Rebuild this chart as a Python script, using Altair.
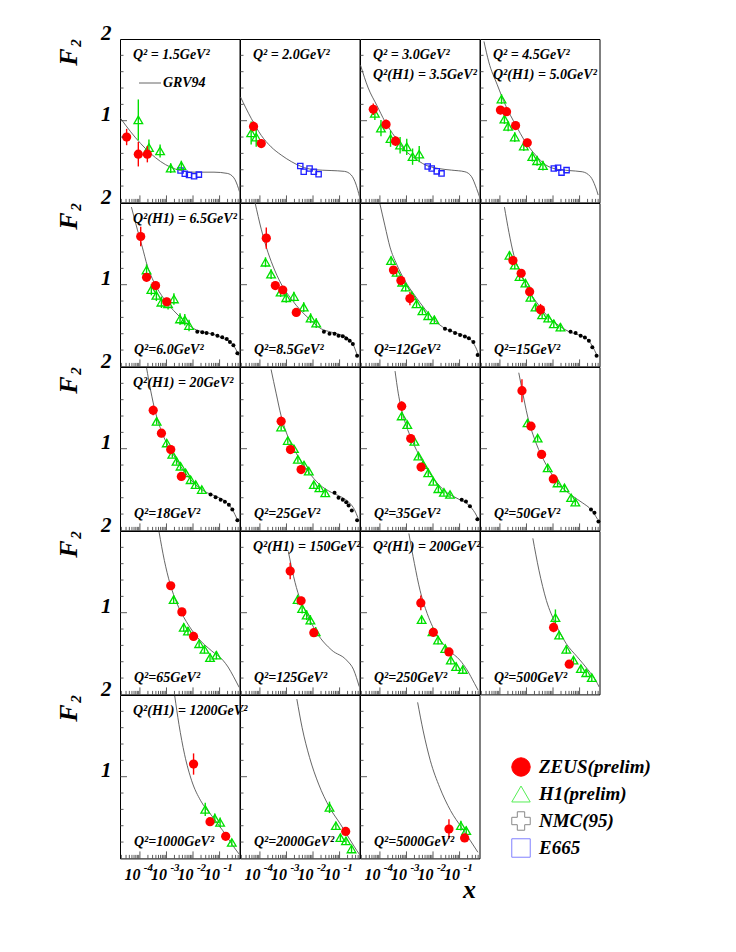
import altair as alt
import pandas as pd

FONT = "Liberation Serif"
W, H = 119.5, 163.4

# ---------------- panel texts ----------------
TOP_TEXT = [
    ["Q² = 1.5GeV²"], ["Q² = 2.0GeV²"], ["Q² = 3.0GeV²", "Q²(H1) = 3.5GeV²"], ["Q² = 4.5GeV²", "Q²(H1) = 5.0GeV²"],
    ["Q²(H1) = 6.5GeV²"], [], [], [],
    ["Q²(H1) = 20GeV²"], [], [], [],
    [], ["Q²(H1) = 150GeV²"], ["Q²(H1) = 200GeV²"], [],
    ["Q²(H1) = 1200GeV²"], [], [],
]
BOTTOM_TEXT = ["", "", "", "", "Q²=6.0GeV²", "Q²=8.5GeV²", "Q²=12GeV²", "Q²=15GeV²",
               "Q²=18GeV²", "Q²=25GeV²", "Q²=35GeV²", "Q²=50GeV²",
               "Q²=65GeV²", "Q²=125GeV²", "Q²=250GeV²", "Q²=500GeV²",
               "Q²=1000GeV²", "Q²=2000GeV²", "Q²=5000GeV²"]

# ---------------- data (log10 x, F2) per panel ----------------
ZEUS_LX = [
    [-4.50, -4.06, -3.72], [-4.24, -3.95], [-4.25, -3.77, -3.41], [-3.98, -3.75, -3.41, -2.97],
    [-3.97, -3.75, -3.41, -2.99], [-3.76, -3.42, -3.14, -2.63], [-3.49, -3.21, -2.87], [-3.51, -3.20, -2.88, -2.47],
    [-3.50, -3.19, -2.84, -2.44], [-3.20, -2.85, -2.45], [-3.18, -2.84, -2.45], [-3.17, -2.83, -2.43, -1.99],
    [-2.84, -2.42, -1.98], [-2.86, -2.45, -1.97], [-2.46, -1.99, -1.40], [-1.98, -1.39],
    [-1.98, -1.36, -0.77], [-0.77], [-1.40, -0.81],
]
ZEUS_F2 = [
    [0.80, 0.59, 0.59], [0.93, 0.72], [1.14, 0.955, 0.75], [1.13, 1.11, 0.94, 0.73],
    [1.59, 1.09, 0.99, 0.79], [1.57, 0.99, 0.935, 0.66], [1.18, 1.05, 0.83], [1.295, 1.14, 0.915, 0.695],
    [1.47, 1.19, 0.99, 0.66], [1.335, 0.99, 0.745], [1.52, 1.125, 0.775], [1.71, 1.275, 0.93, 0.63],
    [1.33, 1.01, 0.71], [1.51, 1.145, 0.755], [1.12, 0.76, 0.52], [0.82, 0.37],
    [1.155, 0.45, 0.27], [0.33], [0.36, 0.25],
]
ZEUS_ERR = [
    [0.10, 0.15, 0.10], [0.06, 0.05], [0.07, 0.06, 0.06], [0.05, 0.05, 0.05, 0.05],
    [0.12, 0.05, 0.05, 0.05], [0.13, 0.05, 0.05, 0.05], [0.05, 0.05, 0.08], [0.05, 0.05, 0.05, 0.07],
    [0.06, 0.05, 0.05, 0.05], [0.06, 0.05, 0.05], [0.06, 0.05, 0.05], [0.14, 0.05, 0.05, 0.05],
    [0.04, 0.04, 0.04], [0.10, 0.05, 0.05], [0.09, 0.05, 0.04], [0.06, 0.04],
    [0.13, 0.04, 0.04], [0.04], [0.12, 0.05],
]

H1_LX = [
    [-4.06, -3.66, -3.24, -2.84, -2.44], [-4.33, -4.14], [-4.19, -3.96, -3.60, -3.24, -2.99, -2.77, -2.52],
    [-3.94, -3.83, -3.69, -3.44, -3.10, -2.78, -2.60, -2.38],
    [-3.75, -3.57, -3.38, -3.19, -2.94, -2.72, -2.49, -2.31, -2.15],
    [-3.79, -3.58, -3.22, -3.01, -2.72, -2.35, -2.09, -1.88],
    [-3.58, -3.37, -3.16, -3.03, -2.80, -2.62, -2.40, -2.18, -1.95],
    [-3.64, -3.44, -3.26, -3.04, -2.85, -2.66, -2.41, -2.18, -1.97, -1.72],
    [-3.37, -2.99, -2.78, -2.62, -2.47, -2.28, -2.09, -1.90, -1.67],
    [-3.20, -2.95, -2.72, -2.57, -2.34, -2.16, -1.97, -1.76, -1.54],
    [-3.18, -2.97, -2.70, -2.55, -2.37, -2.18, -1.99, -1.80, -1.59, -1.36],
    [-2.96, -2.58, -2.20, -1.83, -1.57, -1.32, -1.16],
    [-2.73, -2.35, -2.19, -1.77, -1.57, -1.36, -1.12],
    [-2.58, -2.41, -2.24, -2.10, -1.90],
    [-2.43, -2.02, -1.81, -1.54, -1.33, -1.13, -0.88],
    [-1.91, -1.77, -1.50, -1.23, -0.95, -0.75, -0.54],
    [-1.54, -1.18, -0.98, -0.54],
    [-1.38, -1.14, -0.97, -0.76, -0.55],
    [-0.95, -0.75],
]
H1_F2 = [
    [1.01, 0.67, 0.63, 0.42, 0.45], [0.85, 0.80], [1.09, 0.91, 0.78, 0.70, 0.68, 0.56, 0.59],
    [1.265, 1.02, 0.93, 0.80, 0.69, 0.56, 0.51, 0.45],
    [1.18, 0.94, 0.87, 0.785, 0.765, 0.825, 0.58, 0.57, 0.50],
    [1.275, 1.13, 0.91, 0.84, 0.855, 0.725, 0.59, 0.53],
    [1.295, 1.15, 1.03, 0.97, 0.865, 0.765, 0.68, 0.62, 0.57],
    [1.36, 1.24, 1.10, 1.02, 0.845, 0.725, 0.63, 0.59, 0.52, 0.48],
    [1.335, 1.07, 0.93, 0.845, 0.785, 0.705, 0.62, 0.56, 0.50],
    [1.265, 1.10, 1.00, 0.87, 0.80, 0.725, 0.56, 0.52, 0.46],
    [1.40, 1.295, 1.09, 0.91, 0.805, 0.705, 0.60, 0.51, 0.465, 0.44],
    [1.315, 1.13, 0.765, 0.58, 0.52, 0.40, 0.345],
    [1.16, 0.82, 0.775, 0.62, 0.55, 0.45, 0.48],
    [1.16, 1.05, 0.97, 0.91, 0.765],
    [0.915, 0.765, 0.665, 0.56, 0.42, 0.34, 0.305],
    [0.94, 0.725, 0.55, 0.42, 0.315, 0.265, 0.205],
    [0.60, 0.49, 0.44, 0.195],
    [0.625, 0.40, 0.255, 0.215, 0.115],
    [0.40, 0.34],
]
H1_ERR = [
    [0.25, 0.10, 0.08, 0.06, 0.06], [0.14, 0.12], [0.08, 0.10, 0.10, 0.10, 0.10, 0.10, 0.10],
    [0.06, 0.06, 0.06, 0.06, 0.06, 0.06, 0.06, 0.06],
    [0.07, 0.07, 0.07, 0.07, 0.07, 0.07, 0.07, 0.07, 0.07],
    [0.06, 0.06, 0.06, 0.06, 0.06, 0.06, 0.06, 0.06],
    [0.05, 0.05, 0.05, 0.05, 0.05, 0.05, 0.05, 0.05, 0.05],
    [0.05, 0.05, 0.05, 0.05, 0.05, 0.05, 0.05, 0.05, 0.05, 0.05],
    [0.04, 0.04, 0.04, 0.04, 0.04, 0.04, 0.04, 0.04, 0.04],
    [0.04, 0.04, 0.04, 0.04, 0.04, 0.04, 0.04, 0.04, 0.04],
    [0.04, 0.04, 0.04, 0.04, 0.04, 0.04, 0.04, 0.04, 0.04, 0.04],
    [0.04, 0.04, 0.04, 0.04, 0.04, 0.04, 0.04],
    [0.05, 0.05, 0.05, 0.05, 0.05, 0.05, 0.05],
    [0.06, 0.06, 0.06, 0.06, 0.06],
    [0.05, 0.05, 0.05, 0.05, 0.05, 0.05, 0.05],
    [0.10, 0.05, 0.05, 0.04, 0.04, 0.04, 0.04],
    [0.08, 0.06, 0.06, 0.04],
    [0.07, 0.05, 0.04, 0.04, 0.04],
    [0.06, 0.05],
]

E665_LX = [
    [-2.47, -2.31, -2.15, -1.96, -1.78], [-2.48, -2.35, -2.13, -1.97, -1.79],
    [-2.20, -2.05, -1.86, -1.68], [-1.97, -1.81, -1.68, -1.49],
] + [[] for _ in range(15)]
E665_F2 = [
    [0.39, 0.35, 0.335, 0.32, 0.34], [0.445, 0.375, 0.415, 0.375, 0.345],
    [0.44, 0.415, 0.38, 0.355], [0.415, 0.425, 0.365, 0.395],
] + [[] for _ in range(15)]

NMC_LX = [
    [], [], [], [],
    [-1.84, -1.65, -1.49, -1.27, -1.08, -0.90, -0.73, -0.61, -0.48, -0.33],
    [-1.59, -1.38, -1.19, -1.04, -0.88, -0.75, -0.62, -0.50, -0.34],
    [-1.55, -1.36, -1.17, -0.98, -0.80, -0.65, -0.48, -0.32],
    [-1.34, -1.15, -0.96, -0.80, -0.65, -0.52, -0.36],
    [-1.34, -1.15, -0.96, -0.80, -0.65, -0.52, -0.33],
    [-1.19, -1.04, -0.88, -0.75, -0.66, -0.54, -0.34],
    [-0.92, -0.76, -0.61, -0.33],
    [-0.57, -0.44, -0.29],
    [], [], [], [], [], [], [],
]
NMC_F2 = [
    [], [], [], [],
    [0.425, 0.417, 0.41, 0.397, 0.376, 0.356, 0.336, 0.30, 0.26, 0.16],
    [0.425, 0.40, 0.40, 0.376, 0.368, 0.343, 0.315, 0.275, 0.13],
    [0.46, 0.44, 0.41, 0.385, 0.365, 0.345, 0.30, 0.14],
    [0.425, 0.41, 0.375, 0.355, 0.315, 0.235, 0.13],
    [0.44, 0.405, 0.375, 0.35, 0.315, 0.255, 0.125],
    [0.46, 0.40, 0.375, 0.345, 0.305, 0.245, 0.125],
    [0.375, 0.355, 0.295, 0.135],
    [0.255, 0.215, 0.11],
    [], [], [], [], [], [], [],
]

GRV_LX = [
    [-4.73, -4.35, -3.97, -3.60, -3.22, -2.84, -2.47, -1.96, -1.21, -0.71, -0.46, -0.33, -0.25],
    [-4.73, -4.33, -3.95, -3.58, -3.20, -2.82, -2.45, -1.95, -1.32, -0.82, -0.56, -0.37, -0.25],
    [-4.73, -4.44, -4.12, -3.81, -3.43, -3.06, -2.68, -2.30, -1.80, -1.30, -0.80, -0.55, -0.36, -0.23],
    [-4.60, -4.42, -4.10, -3.79, -3.41, -3.04, -2.66, -2.28, -1.91, -1.41, -0.90, -0.59, -0.40, -0.30],
    [-4.32, -4.10, -3.91, -3.72, -3.47, -3.09, -2.72, -2.34, -1.96, -1.59, -1.21, -0.83, -0.58, -0.39, -0.27],
    [-4.18, -3.95, -3.76, -3.51, -3.20, -2.82, -2.45, -2.07, -1.69, -1.32, -0.94, -0.69, -0.50, -0.34],
    [-4.00, -3.81, -3.62, -3.37, -3.06, -2.68, -2.30, -1.93, -1.55, -1.17, -0.80, -0.55, -0.36, -0.23],
    [-3.83, -3.66, -3.47, -3.22, -2.91, -2.53, -2.16, -1.78, -1.40, -1.03, -0.72, -0.53, -0.34],
    [-3.75, -3.60, -3.41, -3.16, -2.78, -2.34, -1.84, -1.46, -1.08, -0.71, -0.52, -0.33],
    [-3.58, -3.39, -3.20, -2.95, -2.57, -2.19, -1.75, -1.31, -0.94, -0.62, -0.44, -0.31],
    [-3.43, -3.31, -3.12, -2.80, -2.43, -2.05, -1.55, -1.05, -0.67, -0.42, -0.29],
    [-3.29, -3.14, -2.96, -2.64, -2.26, -1.76, -1.26, -0.88, -0.57, -0.32],
    [-3.28, -3.08, -2.87, -2.60, -2.25, -1.84, -1.29, -0.88, -0.68, -0.47, -0.26],
    [-2.93, -2.73, -2.52, -2.24, -1.84, -1.29, -0.74, -0.47, -0.26],
    [-2.91, -2.70, -2.49, -2.22, -1.81, -1.40, -0.99, -0.72, -0.44, -0.30],
    [-2.76, -2.53, -2.25, -1.91, -1.50, -1.09, -0.68, -0.40, -0.26],
    [-2.69, -2.53, -2.32, -2.05, -1.71, -1.29, -0.88, -0.54, -0.27],
    [-2.61, -2.41, -2.13, -1.79, -1.38, -0.97, -0.62, -0.35, -0.21],
    [-2.58, -2.37, -2.10, -1.75, -1.34, -0.93, -0.59, -0.31],
]
GRV_F2 = [
    [1.03, 0.865, 0.72, 0.60, 0.50, 0.43, 0.39, 0.37, 0.37, 0.355, 0.30, 0.21, 0.13],
    [1.29, 1.03, 0.82, 0.68, 0.58, 0.50, 0.44, 0.40, 0.39, 0.38, 0.335, 0.21, 0.07],
    [1.68, 1.40, 1.19, 0.99, 0.80, 0.64, 0.54, 0.46, 0.415, 0.395, 0.375, 0.315, 0.17, 0.05],
    [1.97, 1.72, 1.44, 1.19, 0.95, 0.74, 0.58, 0.46, 0.41, 0.39, 0.375, 0.315, 0.19, 0.09],
    [1.95, 1.68, 1.46, 1.23, 1.03, 0.825, 0.68, 0.56, 0.46, 0.42, 0.39, 0.336, 0.295, 0.21, 0.13],
    [2.0, 1.68, 1.46, 1.23, 1.01, 0.825, 0.68, 0.56, 0.46, 0.42, 0.385, 0.345, 0.275, 0.14],
    [1.99, 1.72, 1.46, 1.25, 1.05, 0.865, 0.70, 0.56, 0.465, 0.415, 0.37, 0.315, 0.21, 0.09],
    [1.95, 1.64, 1.355, 1.15, 0.93, 0.745, 0.60, 0.50, 0.425, 0.385, 0.335, 0.255, 0.13],
    [1.99, 1.72, 1.44, 1.19, 0.95, 0.725, 0.54, 0.46, 0.41, 0.335, 0.255, 0.13],
    [1.97, 1.68, 1.40, 1.15, 0.91, 0.725, 0.56, 0.465, 0.41, 0.335, 0.255, 0.155],
    [1.95, 1.68, 1.40, 1.11, 0.865, 0.665, 0.48, 0.385, 0.315, 0.215, 0.135],
    [1.93, 1.68, 1.40, 1.07, 0.805, 0.56, 0.42, 0.335, 0.255, 0.135],
    [1.99, 1.64, 1.36, 1.11, 0.89, 0.70, 0.53, 0.42, 0.335, 0.215, 0.085],
    [1.75, 1.44, 1.195, 0.99, 0.745, 0.54, 0.42, 0.30, 0.095],
    [1.97, 1.60, 1.275, 0.99, 0.705, 0.54, 0.42, 0.30, 0.135, 0.05],
    [1.91, 1.52, 1.15, 0.87, 0.62, 0.46, 0.30, 0.175, 0.09],
    [1.99, 1.64, 1.275, 0.95, 0.705, 0.52, 0.34, 0.175, 0.055],
    [1.95, 1.60, 1.235, 0.91, 0.625, 0.42, 0.235, 0.095, 0.03],
    [1.91, 1.56, 1.195, 0.87, 0.585, 0.38, 0.215, 0.075],
]

# ---------------- axis ticks / labels ----------------
X_MIN, X_MAX = 10 ** -4.75, 10 ** -0.25
X_MAJOR = [1e-4, 1e-3, 1e-2, 1e-1]
X_MINOR = [k * 10.0 ** n for n in range(-5, 0) for k in range(2, 10) if X_MIN < k * 10.0 ** n < X_MAX]
Y_MAJOR = [1.0]
Y_MINOR = [0.2, 0.4, 0.6, 0.8, 1.2, 1.4, 1.6, 1.8]
XLAB_VAL = [1e-4, 1e-3, 1e-2, 1e-1]
XLAB_EXP = ["-4", "-3", "-2", "-1"]
LEG_LABELS = ["ZEUS(prelim)", "H1(prelim)", "NMC(95)", "E665"]

RED = "#ff0000"
GREEN = "#00e000"
BLUE = "#2020ff"

XS = alt.Scale(type="log", domain=[X_MIN, X_MAX], nice=False)
YS = alt.Scale(domain=[0, 2], nice=False, zero=False)


def pts(lx, f2, err=None):
    d = {"x": [10 ** v for v in lx], "f2": f2}
    if err is not None:
        d["lo"] = [a - e for a, e in zip(f2, err)]
        d["hi"] = [a + e for a, e in zip(f2, err)]
    return pd.DataFrame(d)


def txt(s, x, y, size=14, align="left", **kw):
    return alt.Chart(pd.DataFrame({"t": [s]})).mark_text(
        align=align, baseline="middle", font=FONT, fontSize=size,
        fontStyle="italic", fontWeight="bold", color="black", **kw
    ).encode(x=alt.value(x), y=alt.value(y), text="t:N")


def make_panel(p, row, col):
    if col == 0:
        yax = alt.Axis(values=[1, 2], ticks=False, domain=False, grid=False, labelFont=FONT,
                       labelFontSize=21, labelFontStyle="italic", labelFontWeight="bold",
                       labelColor="black", labelPadding=9, labelBaseline="alphabetic", title=None)
    else:
        yax = None

    def X(f):
        return alt.X(f, type="quantitative", scale=XS, axis=None)

    def Y(f):
        return alt.Y(f, type="quantitative", scale=YS, axis=yax)

    layers = []
    layers.append(alt.Chart(pts(GRV_LX[p], GRV_F2[p])).mark_line(
        color="#555555", strokeWidth=0.9, clip=True, interpolate="monotone"
    ).encode(x=X("x"), y=Y("f2")))
    if NMC_LX[p]:
        layers.append(alt.Chart(pts(NMC_LX[p], NMC_F2[p])).mark_circle(
            size=16, color="black", opacity=1).encode(x=X("x"), y=Y("f2")))
    if E665_LX[p]:
        layers.append(alt.Chart(pts(E665_LX[p], E665_F2[p])).mark_point(
            shape="square", size=28, filled=False, color=BLUE, strokeWidth=1.3, opacity=1
        ).encode(x=X("x"), y=Y("f2")))
    if H1_LX[p]:
        d = pts(H1_LX[p], H1_F2[p], H1_ERR[p])
        layers.append(alt.Chart(d).mark_rule(color=GREEN, strokeWidth=1.4).encode(
            x=X("x"), y=Y("lo"), y2="hi"))
        layers.append(alt.Chart(d).mark_point(
            shape="triangle-up", size=75, filled=False, color=GREEN, strokeWidth=1.3, opacity=1
        ).encode(x=X("x"), y=Y("f2")))
    if ZEUS_LX[p]:
        d = pts(ZEUS_LX[p], ZEUS_F2[p], ZEUS_ERR[p])
        layers.append(alt.Chart(d).mark_rule(color=RED, strokeWidth=1.4).encode(
            x=X("x"), y=Y("lo"), y2="hi"))
        layers.append(alt.Chart(d).mark_circle(size=85, color=RED, opacity=1).encode(
            x=X("x"), y=Y("f2")))

    # inward tick marks
    layers.append(alt.Chart(pd.DataFrame({"v": X_MINOR})).mark_rule(color="#333333", strokeWidth=0.8)
                  .encode(x=X("v"), y=alt.value(H), y2=alt.value(H - 3.5)))
    layers.append(alt.Chart(pd.DataFrame({"v": X_MAJOR})).mark_rule(color="#333333", strokeWidth=0.8)
                  .encode(x=X("v"), y=alt.value(H), y2=alt.value(H - 7)))
    layers.append(alt.Chart(pd.DataFrame({"v": Y_MINOR})).mark_rule(color="#333333", strokeWidth=0.8)
                  .encode(y=Y("v"), x=alt.value(0), x2=alt.value(3.5)))
    layers.append(alt.Chart(pd.DataFrame({"v": Y_MAJOR})).mark_rule(color="#333333", strokeWidth=0.8)
                  .encode(y=Y("v"), x=alt.value(0), x2=alt.value(7)))

    for i, s in enumerate(TOP_TEXT[p]):
        layers.append(txt(s, 13, 16 + 20 * i))
    if BOTTOM_TEXT[p]:
        layers.append(txt(BOTTOM_TEXT[p], 14, H - 16))
    if p == 0:
        layers.append(alt.Chart(pd.DataFrame({"t": ["GRV94"]})).mark_rule(color="#555555", strokeWidth=0.9)
                      .encode(x=alt.value(19), x2=alt.value(41), y=alt.value(44)))
        layers.append(txt("GRV94", 43, 44))

    if col == 0:
        layers.append(txt("F", -51, 18, size=26, align="center", angle=270))
        layers.append(txt("2", -44, 4, size=15, align="center", angle=270))

    if row == 4:
        xl = pd.DataFrame({"v": XLAB_VAL, "e": XLAB_EXP})
        layers.append(alt.Chart(xl).mark_text(
            font=FONT, fontSize=16, fontStyle="italic", fontWeight="bold", color="black",
            align="center", baseline="middle", dx=-7.5
        ).encode(x=X("v"), y=alt.value(H + 17), text=alt.value("10")))
        layers.append(alt.Chart(xl).mark_text(
            font=FONT, fontSize=11, fontStyle="italic", fontWeight="bold", color="black",
            align="center", baseline="middle", dx=8.5
        ).encode(x=X("v"), y=alt.value(H + 10), text="e:N"))
        if col == 2:
            layers.append(txt("x", W - 10, H + 32, size=26, align="center"))

    return alt.layer(*layers).properties(width=W, height=H)


def make_legend():
    ly = alt.Y("label:N", sort=LEG_LABELS, axis=None,
               scale=alt.Scale(type="point", domain=LEG_LABELS, range=[72, 153], padding=0))
    styles = [
        ("circle", RED, RED),
        ("triangle-up", "transparent", "#55ee55"),
        ("cross", "transparent", "#888888"),
        ("square", "transparent", "#8080ff"),
    ]
    layers = []
    for lab, (shape, fill, stroke) in zip(LEG_LABELS, styles):
        layers.append(alt.Chart(pd.DataFrame({"label": [lab]})).mark_point(
            shape=shape, size=340, fill=fill, stroke=stroke, strokeWidth=1, opacity=1,
            filled=fill != "transparent"
        ).encode(x=alt.value(41), y=ly))
    layers.append(alt.Chart(pd.DataFrame({"label": LEG_LABELS})).mark_text(
        align="left", baseline="middle", font=FONT, fontSize=19, fontStyle="italic",
        fontWeight="bold", color="black"
    ).encode(x=alt.value(59), y=ly, text="label:N"))
    return alt.layer(*layers).properties(width=W, height=H, view=alt.ViewBackground(stroke="transparent"))


charts = []
p = 0
for r in range(5):
    ncols = 4 if r < 4 else 3
    for c in range(ncols):
        charts.append(make_panel(p, r, c))
        p += 1
charts.append(make_legend())

chart = alt.concat(*charts, columns=4, spacing=0, bounds="flush").properties(
    padding={"left": 47, "top": 13, "right": 5, "bottom": 5},
    background="white",
).configure_view(stroke="black", strokeWidth=1)

chart.save("out.html", embed_options={"renderer": "svg", "actions": False})
